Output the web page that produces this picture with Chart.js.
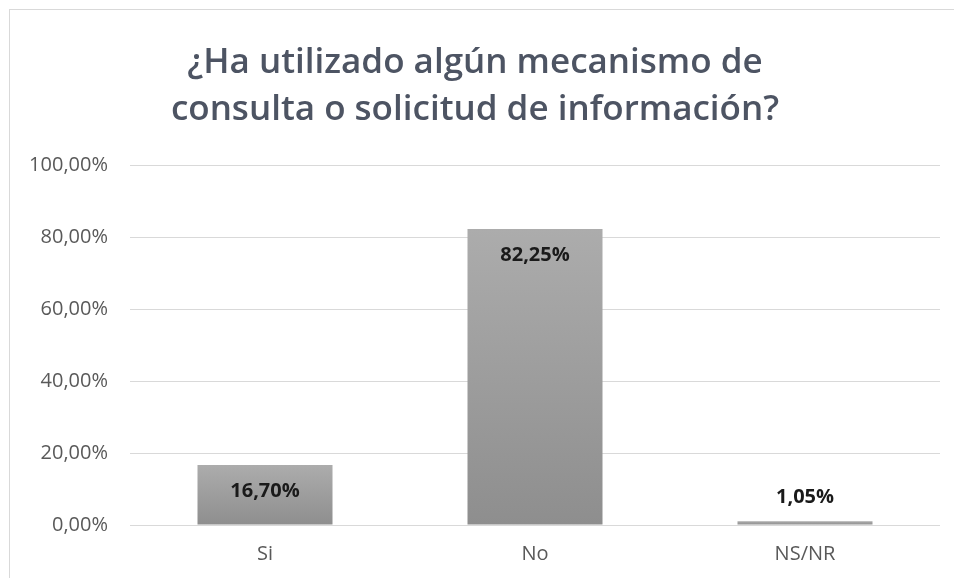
<!DOCTYPE html>
<html>
<head>
<meta charset="utf-8">
<script src="https://cdn.jsdelivr.net/npm/chart.js@4/dist/chart.umd.min.js"></script>
<style>
    html, body { margin: 0; padding: 0; background: #ffffff; }
    #wrap { position: relative; width: 954px; height: 578px; overflow: hidden; }
    #frame { position: absolute; left: 9px; top: 9px; width: 1000px; height: 600px; border: 1px solid #d9d9d9; box-sizing: border-box; }
    #myBarChart { position: absolute; left: 0; top: 0; }
</style>
</head>
<body>
<div id="wrap">
    <div id="frame"></div>
    <canvas id="myBarChart" width="954" height="578"></canvas>
</div>
<script>
var titleLines = ['¿Ha utilizado algún mecanismo de', 'consulta o solicitud de información?'];
var categories = ['Si', 'No', 'NS/NR'];
var values = [16.70, 82.25, 1.05];
var tickValues = [0, 20, 40, 60, 80, 100];

function pct(v) {
    return v.toFixed(2).replace('.', ',') + '%';
}

// gradiente por barra, de claro arriba a oscuro abajo
function barGradient(context) {
    var chart = context.chart;
    if (!chart.chartArea) return '#9c9c9c';
    var y = chart.scales.y;
    var top = y.getPixelForValue(context.raw);
    var bottom = y.getPixelForValue(0);
    if (bottom - top < 1) return '#969696';
    var g = chart.ctx.createLinearGradient(0, top, 0, bottom);
    g.addColorStop(0, '#acacac');
    g.addColorStop(1, '#8e8e8e');
    return g;
}

var labelPlugin = {
    id: 'valueLabels',
    afterDatasetsDraw: function(chart) {
        var ctx = chart.ctx;
        var meta = chart.getDatasetMeta(0);
        ctx.save();
        ctx.font = 'bold 20px "Open Sans", sans-serif';
        ctx.fillStyle = '#1a1a1a';
        ctx.textAlign = 'center';
        ctx.textBaseline = 'middle';
        meta.data.forEach(function(bar, i) {
            var h = bar.base - bar.y;
            var y = h > 50 ? bar.y + 26 : bar.y - 24;
            ctx.fillText(pct(values[i]), bar.x, y);
        });
        ctx.restore();
    }
};

var ctxBar = document.getElementById('myBarChart');
var myBarChart = new Chart(ctxBar.getContext('2d'), {
    type: 'bar',
    data: {
        labels: categories,
        datasets: [{
            data: values,
            backgroundColor: barGradient,
            borderWidth: 0,
            barPercentage: 0.5,
            categoryPercentage: 1.0
        }]
    },
    options: {
        responsive: false,
        animation: false,
        layout: { padding: { left: 10, right: 14, top: 0, bottom: 0 } },
        plugins: {
            legend: { display: false },
            tooltip: { enabled: false },
            title: {
                display: true,
                text: titleLines,
                color: '#4d5463',
                font: { family: '"Open Sans"', size: 35, weight: '600', lineHeight: 1.343 },
                padding: { top: 40, bottom: 31 }
            }
        },
        scales: {
            x: {
                grid: { display: false, drawTicks: false },
                border: { display: false },
                ticks: { color: '#595959', font: { family: '"Open Sans"', size: 20 }, padding: 17 },
                afterFit: function(scale) { scale.height = 53; }
            },
            y: {
                min: 0,
                max: 100,
                afterBuildTicks: function(scale) {
                    scale.ticks = tickValues.map(function(v) { return { value: v }; });
                },
                grid: { color: '#d9d9d9', lineWidth: 1, drawTicks: false },
                border: { display: false },
                ticks: {
                    color: '#595959',
                    font: { family: '"Open Sans"', size: 20 },
                    padding: 22,
                    callback: function(v) { return pct(v); }
                },
                afterFit: function(scale) { scale.width = 120; }
            }
        }
    },
    plugins: [labelPlugin]
});
</script>
</body>
</html>
